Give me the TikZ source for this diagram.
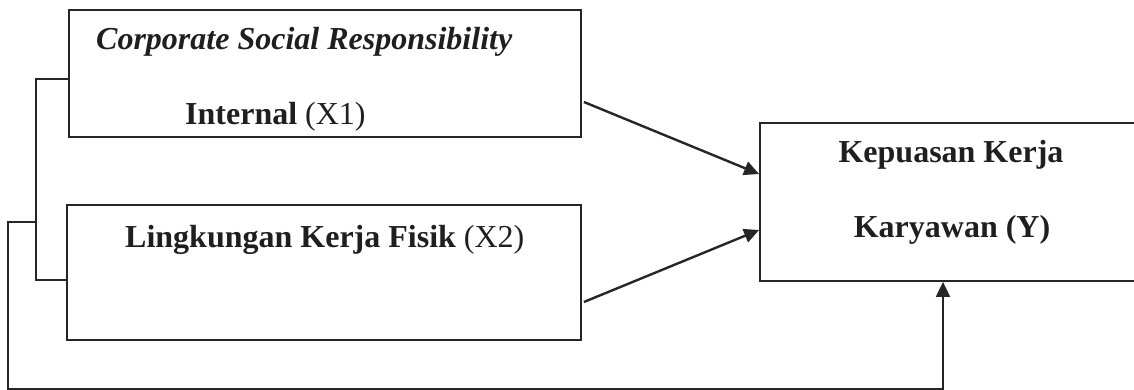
\documentclass[tikz,border=0pt]{standalone}
\usepackage{fontspec}
\setmainfont{Liberation Serif}
\usetikzlibrary{arrows.meta}
\begin{document}
\begin{tikzpicture}[x=1pt, y=-1pt, >={Triangle[length=15pt,width=14pt]},
    var box/.style={draw=black!85, line width=1.8pt, rectangle, inner sep=0pt},
    var text/.style={font=\fontsize{32}{38}\selectfont\bfseries, text=black!88, inner sep=0pt},
    link/.style={draw=black!85, line width=1.5pt},
    path arrow/.style={->, draw=black!85, line width=2.4pt}]

    \useasboundingbox (0,0) rectangle (1134,390);

    % Variable boxes
    \node[var box, minimum width=512pt, minimum height=127pt] (x1) at (325,73.5) {};
    \node[var box, minimum width=514pt, minimum height=135pt] (x2) at (324,272.5) {};
    \node[var box, minimum width=376pt, minimum height=158pt] (yv) at (948,202) {};

    % Labels
    \node[var text, anchor=base west] (t1) at (96,50) {\itshape Corporate Social Responsibility};
    \node[var text, anchor=base west] (t2) at (185,125) {Internal \mdseries(X1)};
    \node[var text, anchor=base west] (t3) at (125,247) {Lingkungan Kerja Fisik \mdseries(X2)};
    \node[var text, anchor=base] (t4) at (951,163) {Kepuasan Kerja};
    \node[var text, anchor=base] (t5) at (952,237) {Karyawan (Y)};

    % Paths into Y
    \draw[path arrow] ([xshift=2pt, yshift=-28.5pt]x1.east) -- ([yshift=28pt]yv.west);
    \draw[path arrow] ([xshift=2pt, yshift=-29.5pt]x2.east) -- ([yshift=-28pt]yv.west);

    % Bracket joining X1 and X2, then round to Y
    \coordinate (br) at (36,222);
    \coordinate (cn) at (8,389);
    \draw[link] ([yshift=-5.5pt]x1.west) -| (br) |- ([yshift=-7.5pt]x2.west);
    \draw[link, line width=1.8pt, ->] (br) -- (br -| cn) -- (cn) -| ([xshift=-5pt]yv.south);

\end{tikzpicture}
\end{document}
